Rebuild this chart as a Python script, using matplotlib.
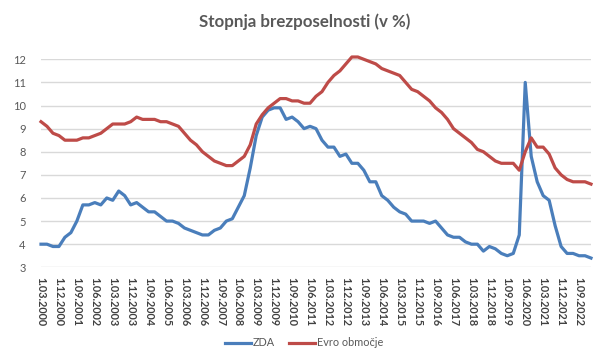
import matplotlib
matplotlib.use("Agg")
import matplotlib.pyplot as plt
import numpy as np

# ---- data (quarterly, 1.03.2000 .. 1.03.2023) ----
zda = [4.0, 4.0, 3.9, 3.9, 4.3, 4.5, 5.0, 5.7, 5.7, 5.8, 5.7, 6.0, 5.9, 6.3, 6.1, 5.7,
       5.8, 5.6, 5.4, 5.4, 5.2, 5.0, 5.0, 4.9, 4.7, 4.6, 4.5, 4.4, 4.4, 4.6, 4.7, 5.0,
       5.1, 5.6, 6.1, 7.3, 8.7, 9.5, 9.8, 9.9, 9.9, 9.4, 9.5, 9.3, 9.0, 9.1, 9.0, 8.5,
       8.2, 8.2, 7.8, 7.9, 7.5, 7.5, 7.2, 6.7, 6.7, 6.1, 5.9, 5.6, 5.4, 5.3, 5.0, 5.0,
       5.0, 4.9, 5.0, 4.7, 4.4, 4.3, 4.3, 4.1, 4.0, 4.0, 3.7, 3.9, 3.8, 3.6, 3.5, 3.6,
       4.4, 11.0, 7.8, 6.7, 6.1, 5.9, 4.8, 3.9, 3.6, 3.6, 3.5, 3.5, 3.4]
evro = [9.3, 9.1, 8.8, 8.7, 8.5, 8.5, 8.5, 8.6, 8.6, 8.7, 8.8, 9.0, 9.2, 9.2, 9.2, 9.3,
        9.5, 9.4, 9.4, 9.4, 9.3, 9.3, 9.2, 9.1, 8.8, 8.5, 8.3, 8.0, 7.8, 7.6, 7.5, 7.4,
        7.4, 7.6, 7.8, 8.3, 9.2, 9.6, 9.9, 10.1, 10.3, 10.3, 10.2, 10.2, 10.1, 10.1, 10.4, 10.6,
        11.0, 11.3, 11.5, 11.8, 12.1, 12.1, 12.0, 11.9, 11.8, 11.6, 11.5, 11.4, 11.3, 11.0, 10.7, 10.6,
        10.4, 10.2, 9.9, 9.7, 9.4, 9.0, 8.8, 8.6, 8.4, 8.1, 8.0, 7.8, 7.6, 7.5, 7.5, 7.5,
        7.2, 8.0, 8.6, 8.2, 8.2, 7.9, 7.3, 7.0, 6.8, 6.7, 6.7, 6.7, 6.6]
tick_labels = ["1.03.2000", "1.12.2000", "1.09.2001", "1.06.2002", "1.03.2003", "1.12.2003",
               "1.09.2004", "1.06.2005", "1.03.2006", "1.12.2006", "1.09.2007", "1.06.2008",
               "1.03.2009", "1.12.2009", "1.09.2010", "1.06.2011", "1.03.2012", "1.12.2012",
               "1.09.2013", "1.06.2014", "1.03.2015", "1.12.2015", "1.09.2016", "1.06.2017",
               "1.03.2018", "1.12.2018", "1.09.2019", "1.06.2020", "1.03.2021", "1.12.2021",
               "1.09.2022"]
y_ticks = [3, 4, 5, 6, 7, 8, 9, 10, 11, 12]
title = "Stopnja brezposelnosti (v %)"
series_names = ["ZDA", "Evro območje"]

plt.rcParams['font.family'] = ['Lato', 'DejaVu Sans']
TXT = '#595959'
W, H = 605, 363
fig = plt.figure(figsize=(W / 100, H / 100), dpi=100)
ax = fig.add_axes([41 / W, 1 - 267.3 / H, (591 - 41) / W, (267.3 - 59.3) / H])

x = np.arange(len(zda))
l1, = ax.plot(x, zda, color='#4a7ebb', lw=2.3, solid_joinstyle='round', clip_on=False)
l2, = ax.plot(x, evro, color='#be4b48', lw=2.3, solid_joinstyle='round', clip_on=False)

ax.set_xlim(0, len(zda) - 1)
ax.set_ylim(3, 12)
ax.set_yticks(y_ticks)
ax.set_yticklabels([str(v) for v in y_ticks], fontsize=8, color=TXT)
ax.set_xticks(np.arange(len(tick_labels)) * 3)
ax.set_xticklabels(tick_labels, rotation=270, fontsize=7.8, color='#404040', fontweight='bold')
ax.tick_params(axis='both', length=0)
ax.tick_params(axis='y', pad=11)
ax.tick_params(axis='x', pad=7)
for s in ['top', 'right', 'left', 'bottom']:
    ax.spines[s].set_visible(False)
ax.grid(axis='y', color='#d9d9d9', lw=1)
ax.set_axisbelow(True)

fig.text(304.5 / W, 1 - 22 / H, title, ha='center', va='center',
         fontsize=12.2, fontweight='bold', color=TXT)

fig.legend([l1, l2], series_names, loc='center', bbox_to_anchor=(304 / W, 1 - 343 / H),
           ncol=2, frameon=False, fontsize=7.8, handlelength=2.4, handletextpad=0.2,
           columnspacing=1.3, labelcolor=TXT)

fig.savefig('out.png', dpi=100)
